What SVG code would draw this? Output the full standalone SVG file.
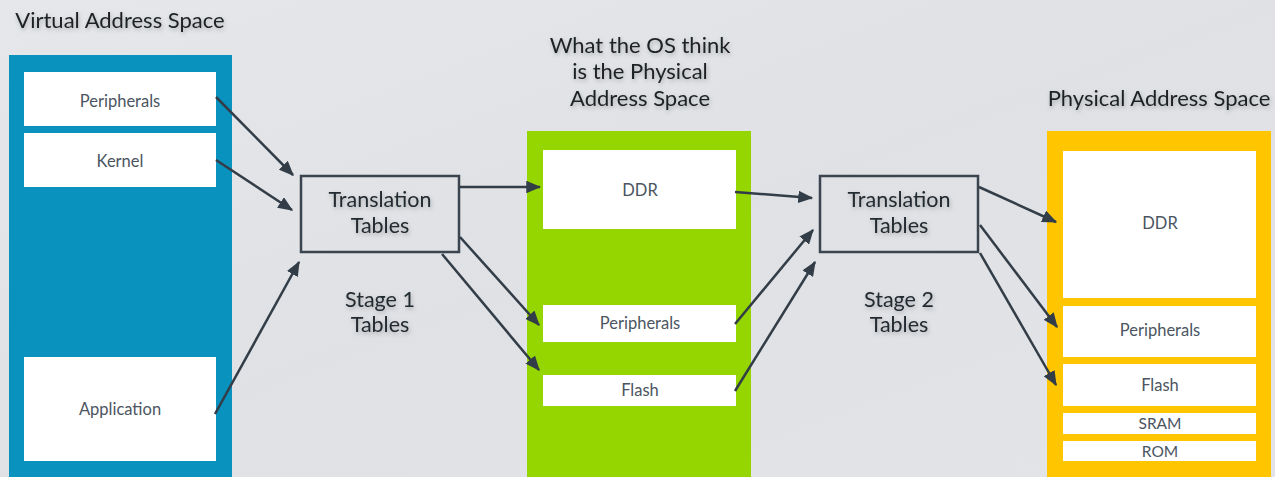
<svg xmlns="http://www.w3.org/2000/svg" width="1275" height="477" viewBox="0 0 1275 477">
<style>
.title{font-family:Lato,"Open Sans","Liberation Sans",sans-serif;font-size:22px;fill:#1c2024;text-anchor:middle}
.tt{font-family:Lato,"Open Sans","Liberation Sans",sans-serif;font-size:21.5px;fill:#222a30;text-anchor:middle}
.lbl{font-family:Lato,"Open Sans","Liberation Sans",sans-serif;font-size:16.5px;fill:#4b5561;text-anchor:middle}
.slbl{font-family:Lato,"Open Sans","Liberation Sans",sans-serif;font-size:15.5px;fill:#4b5561;text-anchor:middle}
.wb{fill:#ffffff}
.conn{stroke:#323d48;stroke-width:2.5;fill:none;marker-end:url(#ah)}
.tbox{fill:none;stroke:#3a4550;stroke-width:2.5}
</style>
<defs>
<linearGradient id="bg" x1="0" y1="0" x2="1" y2="1">
<stop offset="0" stop-color="#e6e7ea"/>
<stop offset="0.5" stop-color="#dfe1e4"/>
<stop offset="1" stop-color="#e3e4e7"/>
</linearGradient>
<marker id="ah" viewBox="0 0 12 10" refX="11" refY="5" markerWidth="6" markerHeight="5" markerUnits="strokeWidth" orient="auto">
<path d="M0,0 L12,5 L0,10 z" fill="#323d48"/>
</marker>
<filter id="sh" x="-10%" y="-30%" width="120%" height="160%">
<feDropShadow dx="1" dy="2" stdDeviation="2" flood-color="#000" flood-opacity="0.25"/>
</filter>
</defs>
<rect width="1275" height="477" fill="url(#bg)"/>

<g id="virtual-space">
<rect x="9" y="55" width="223" height="422" fill="#0a92bf"/>
<text class="title" x="120" y="28" filter="url(#sh)">Virtual Address Space</text>
</g>
<g id="v-peripherals"><rect class="wb" x="24" y="72" width="192" height="54"/><text class="lbl" x="120" y="107">Peripherals</text></g>
<g id="v-kernel"><rect class="wb" x="24" y="133" width="192" height="54"/><text class="lbl" x="120" y="167">Kernel</text></g>
<g id="v-application"><rect class="wb" x="24" y="357" width="192" height="104"/><text class="lbl" x="120" y="415">Application</text></g>

<g id="ipa-space">
<rect x="527" y="131" width="224" height="346" fill="#95d500"/>
<text class="title" x="640" y="53" filter="url(#sh)">What the OS think</text>
<text class="title" x="640" y="79" filter="url(#sh)">is the Physical</text>
<text class="title" x="640" y="106" filter="url(#sh)">Address Space</text>
</g>
<g id="i-ddr"><rect class="wb" x="543" y="150" width="193" height="79"/><text class="lbl" x="640" y="196">DDR</text></g>
<g id="i-peripherals"><rect class="wb" x="543" y="305" width="193" height="37"/><text class="lbl" x="640" y="329">Peripherals</text></g>
<g id="i-flash"><rect class="wb" x="543" y="375" width="193" height="31"/><text class="lbl" x="640" y="396">Flash</text></g>

<g id="pa-space">
<rect x="1047" y="131" width="224" height="346" fill="#ffc600"/>
<text class="title" x="1159" y="106" filter="url(#sh)">Physical Address Space</text>
</g>
<g id="p-ddr"><rect class="wb" x="1063" y="151" width="193" height="147"/><text class="lbl" x="1160" y="229">DDR</text></g>
<g id="p-peripherals"><rect class="wb" x="1063" y="306" width="193" height="51"/><text class="lbl" x="1160" y="336">Peripherals</text></g>
<g id="p-flash"><rect class="wb" x="1063" y="364" width="193" height="42"/><text class="lbl" x="1160" y="391">Flash</text></g>
<g id="p-sram"><rect class="wb" x="1063" y="413" width="193" height="21"/><text class="slbl" x="1160" y="429">SRAM</text></g>
<g id="p-rom"><rect class="wb" x="1063" y="441" width="193" height="20"/><text class="slbl" x="1160" y="457">ROM</text></g>

<g id="tt1">
<rect class="tbox" x="301" y="176" width="158" height="76"/>
<text class="tt" x="380" y="207" filter="url(#sh)">Translation</text>
<text class="tt" x="380" y="233" filter="url(#sh)">Tables</text>
</g>
<g id="stage1">
<text class="tt" x="380" y="307" filter="url(#sh)">Stage 1</text>
<text class="tt" x="380" y="332" filter="url(#sh)">Tables</text>
</g>
<g id="tt2">
<rect class="tbox" x="820" y="176" width="158" height="76"/>
<text class="tt" x="899" y="207" filter="url(#sh)">Translation</text>
<text class="tt" x="899" y="233" filter="url(#sh)">Tables</text>
</g>
<g id="stage2">
<text class="tt" x="899" y="307" filter="url(#sh)">Stage 2</text>
<text class="tt" x="899" y="332" filter="url(#sh)">Tables</text>
</g>

<g id="connectors">
<line class="conn" x1="216" y1="97" x2="293" y2="175"/>
<line class="conn" x1="216" y1="160" x2="292" y2="210"/>
<line class="conn" x1="215" y1="414" x2="299" y2="262"/>
<line class="conn" x1="459" y1="187" x2="540" y2="187"/>
<line class="conn" x1="460" y1="237" x2="539" y2="325"/>
<line class="conn" x1="442" y1="254" x2="539" y2="370"/>
<line class="conn" x1="735" y1="192" x2="812" y2="198"/>
<line class="conn" x1="735" y1="324" x2="813" y2="230"/>
<line class="conn" x1="735" y1="391" x2="815" y2="262"/>
<line class="conn" x1="979" y1="187" x2="1056" y2="222"/>
<line class="conn" x1="980" y1="225" x2="1057" y2="327"/>
<line class="conn" x1="980" y1="253" x2="1056" y2="385"/>
</g>
</svg>
